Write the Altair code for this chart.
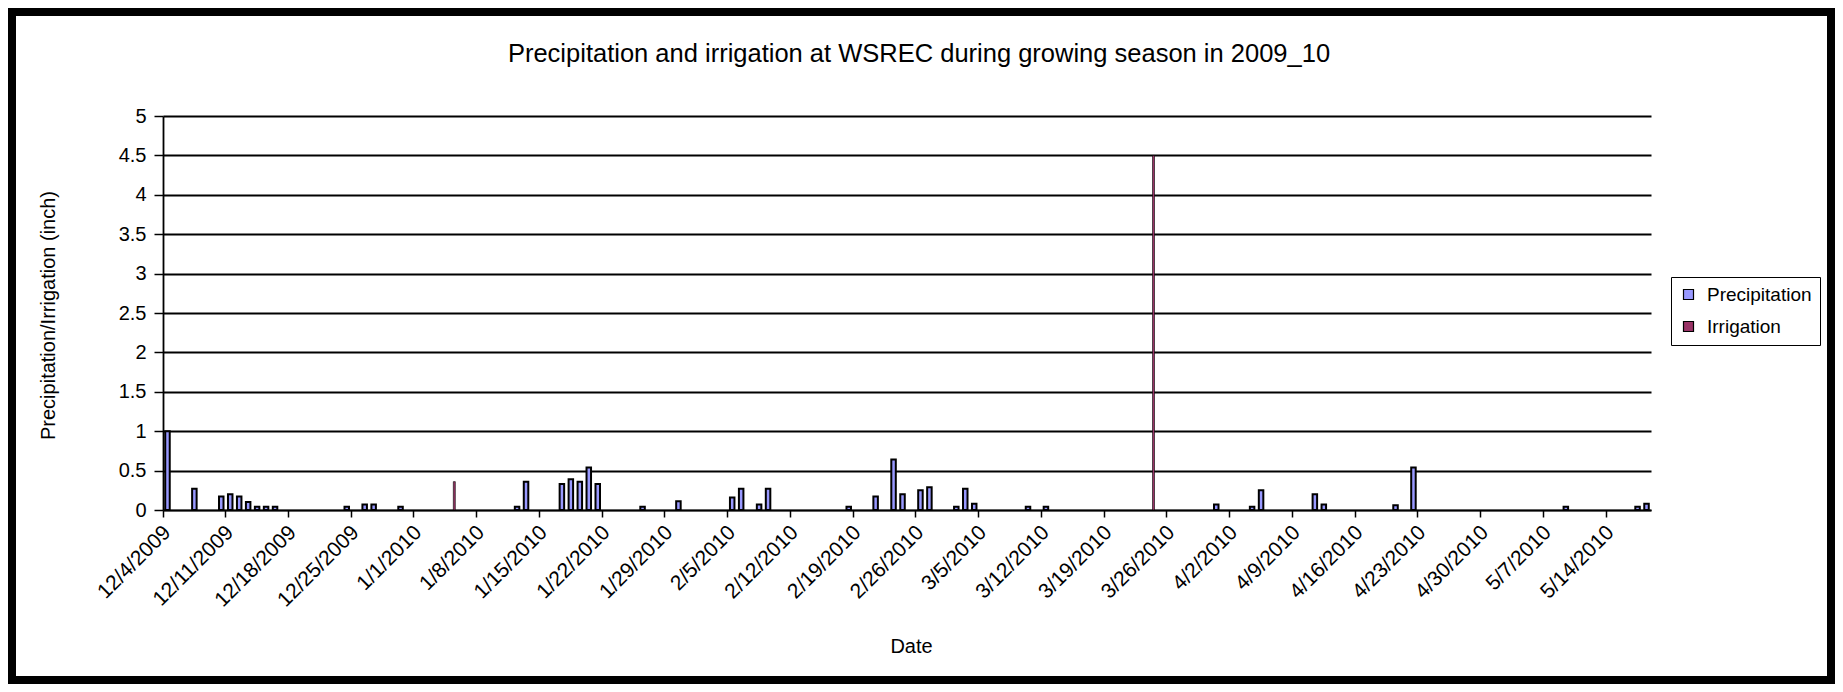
import altair as alt
import pandas as pd

# ---- data ----
season_start = "2009-12-04"
season_days = 166  # 12/4/2009 .. 5/18/2010 (one category per day)

week_labels = ["12/4/2009", "12/11/2009", "12/18/2009", "12/25/2009", "1/1/2010",
               "1/8/2010", "1/15/2010", "1/22/2010", "1/29/2010", "2/5/2010",
               "2/12/2010", "2/19/2010", "2/26/2010", "3/5/2010", "3/12/2010",
               "3/19/2010", "3/26/2010", "4/2/2010", "4/9/2010", "4/16/2010",
               "4/23/2010", "4/30/2010", "5/7/2010", "5/14/2010"]

precip_dates = ["12/4/2009", "12/7/2009", "12/10/2009", "12/11/2009", "12/12/2009",
                "12/13/2009", "12/14/2009", "12/15/2009", "12/16/2009", "12/24/2009",
                "12/26/2009", "12/27/2009", "12/30/2009", "1/12/2010", "1/13/2010",
                "1/17/2010", "1/18/2010", "1/19/2010", "1/20/2010", "1/21/2010",
                "1/26/2010", "1/30/2010", "2/5/2010", "2/6/2010", "2/8/2010",
                "2/9/2010", "2/18/2010", "2/21/2010", "2/23/2010", "2/24/2010",
                "2/26/2010", "2/27/2010", "3/2/2010", "3/3/2010", "3/4/2010",
                "3/10/2010", "3/12/2010", "3/31/2010", "4/4/2010", "4/5/2010",
                "4/11/2010", "4/12/2010", "4/20/2010", "4/22/2010", "5/9/2010",
                "5/17/2010", "5/18/2010"]
precip_values = [1.0, 0.27, 0.17, 0.20, 0.17,
                 0.10, 0.04, 0.04, 0.04, 0.04,
                 0.07, 0.07, 0.04, 0.04, 0.36,
                 0.33, 0.39, 0.36, 0.54, 0.33,
                 0.04, 0.11, 0.16, 0.27, 0.07,
                 0.27, 0.04, 0.17, 0.64, 0.20,
                 0.25, 0.29, 0.04, 0.27, 0.08,
                 0.04, 0.04, 0.07, 0.04, 0.25,
                 0.20, 0.07, 0.06, 0.54, 0.04,
                 0.04, 0.08]

irr_dates = ["1/5/2010", "3/24/2010"]
irr_values = [0.36, 4.5]

series_names = ["Precipitation", "Irrigation"]
series_colors = ["#9999FF", "#993366"]
y_ticks = [0, 0.5, 1, 1.5, 2, 2.5, 3, 3.5, 4, 4.5, 5]
chart_title = "Precipitation and irrigation at WSREC during growing season in 2009_10"

# ---- build tables ----
all_dates = [f"{d.month}/{d.day}/{d.year}"
             for d in pd.date_range(season_start, periods=season_days, freq="D")]

precip_df = pd.DataFrame({"date": precip_dates, "value": precip_values,
                          "series": "Precipitation"})
irr_df = pd.DataFrame({"date": irr_dates, "value": irr_values,
                       "series": "Irrigation"})

FONT = "Liberation Sans"
PLOT_W, PLOT_H = 1488, 394

x_enc = alt.X(
    "date:O",
    scale=alt.Scale(domain=all_dates, paddingInner=0, paddingOuter=0),
    axis=alt.Axis(
        values=week_labels, bandPosition=0, labelAngle=-45,
        labelAlign="right", labelBaseline="middle", labelPadding=12,
        labelFontSize=21, labelFont=FONT, labelColor="black",
        tickSize=7, tickColor="black", tickWidth=1.5,
        domainColor="black", domainWidth=1.6, grid=False,
        title="Date", titleFontSize=20, titleFont=FONT, titleFontWeight="normal",
        titleColor="black", titleX=748, titleY=136, titleAlign="center",
        titleBaseline="middle", labelOverlap=False,
    ),
)
y_enc = alt.Y(
    "value:Q",
    scale=alt.Scale(domain=[0, 5], nice=False),
    axis=alt.Axis(
        values=y_ticks, format="~g", grid=True, gridColor="black", gridWidth=1.8,
        tickSize=9, tickColor="black", tickWidth=1.5, domainColor="black",
        domainWidth=1.8, labelFontSize=20, labelFont=FONT, labelColor="black",
        labelPadding=8,
        title="Precipitation/Irrigation (inch)", titleFontSize=20, titleFont=FONT,
        titleFontWeight="normal", titleColor="black", titleX=-115, titleY=199,
        titleAngle=270, titleAlign="center", titleBaseline="middle",
    ),
)
color_enc = alt.Color(
    "series:N",
    scale=alt.Scale(domain=series_names, range=series_colors),
    legend=alt.Legend(
        title=None, orient="none", legendX=1508, legendY=161,
        symbolType="square", symbolSize=100, symbolStrokeColor="black",
        symbolStrokeWidth=1.2, labelFontSize=19, labelFont=FONT,
        labelColor="black", labelOffset=9, rowPadding=12, padding=8,
        strokeColor="black", fillColor="white",
    ),
)

frame = alt.Chart(pd.DataFrame({"k": [0]})).mark_rect(
    fillOpacity=0, stroke="black", strokeWidth=8
).encode(
    x=alt.value(-151), x2=alt.value(1668), y=alt.value(-104), y2=alt.value(564)
)

title_mark = alt.Chart(pd.DataFrame({"t": [chart_title]})).mark_text(
    font=FONT, fontSize=25.5, color="black", align="center", baseline="alphabetic"
).encode(text="t:N", x=alt.value(756), y=alt.value(-54))

precip = alt.Chart(precip_df).mark_bar(
    width=4.5, stroke="black", strokeWidth=2
).encode(x=x_enc, y=y_enc, color=color_enc)

irrig = alt.Chart(irr_df).mark_bar(
    width=2, stroke="black", strokeWidth=0.6
).encode(x=x_enc, y=y_enc, color=color_enc)

chart = alt.layer(frame, title_mark, precip, irrig).properties(
    width=PLOT_W, height=PLOT_H,
    autosize=alt.AutoSizeParams(type="none"),
    padding={"left": 155, "top": 108, "right": 184, "bottom": 174},
    background="white",
).configure_view(stroke=None)

chart.save("out.html", embed_options={"renderer": "svg", "actions": False})
